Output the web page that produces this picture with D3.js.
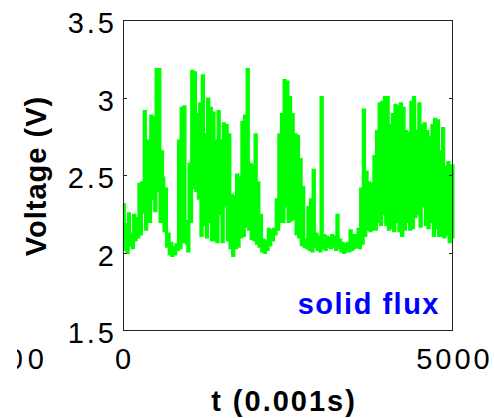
<!DOCTYPE html>
<html>
<head>
<meta charset="utf-8">
<script src="https://cdn.jsdelivr.net/npm/d3@7"></script>
<style>
  html, body { margin: 0; padding: 0; background: #fff; }
  svg { display: block; }
  .tick-label { font-family: "Liberation Sans", Arial, sans-serif; font-size: 29px; fill: #000; }
  .axis-title { font-family: "Liberation Sans", Arial, sans-serif; font-size: 29px; font-weight: bold; fill: #000; }
</style>
</head>
<body>
<svg id="chart" width="494" height="418"></svg>
<script>
// Voltage trace, one reading every 20 steps (t in units of 0.001 s)
const sampleStep = 20;
const voltage = [
  2.31, 2.02, 2.18, 2.00, 2.25, 2.05, 2.12, 2.03, 2.24, 2.08,
  2.22, 2.10, 2.44, 2.12, 2.45, 2.26, 2.91, 2.15, 2.60, 2.72,
  2.20, 2.88, 2.35, 2.87, 2.27, 3.18, 2.40, 3.18, 2.20, 2.65,
  2.48, 2.14, 2.41, 2.04, 2.12, 1.99, 2.06, 1.98, 2.03, 1.99,
  2.05, 2.02, 2.72, 2.03, 2.93, 2.07, 2.94, 2.20, 2.06, 2.01,
  2.57, 2.20, 3.17, 2.42, 3.16, 2.40, 2.89, 2.35, 2.96, 2.11,
  3.14, 2.18, 2.76, 2.10, 2.99, 2.20, 2.93, 2.08, 2.90, 2.08,
  2.72, 2.07, 2.91, 2.25, 2.72, 2.07, 2.83, 2.30, 2.82, 2.08,
  2.76, 2.03, 2.37, 1.98, 2.36, 2.03, 2.50, 2.04, 2.48, 2.10,
  2.84, 2.11, 2.88, 2.17, 3.18, 2.15, 2.57, 2.09, 2.56, 2.08,
  2.76, 2.06, 2.45, 2.04, 2.24, 2.01, 2.08, 2.00, 2.07, 2.02,
  2.15, 2.05, 2.14, 2.08, 2.15, 2.12, 2.34, 2.15, 2.76, 2.20,
  2.89, 2.20, 3.11, 2.30, 3.10, 2.20, 3.00, 2.21, 2.89, 2.22,
  2.76, 2.12, 2.75, 2.10, 2.60, 2.05, 2.42, 2.04, 2.08, 2.03,
  2.29, 2.02, 2.34, 2.01, 2.53, 2.04, 2.12, 2.02, 2.10, 2.01,
  3.00, 2.03, 2.11, 2.02, 2.10, 2.04, 2.09, 2.03, 2.11, 2.04,
  2.10, 2.02, 2.24, 2.03, 2.08, 2.01, 2.06, 2.00, 2.05, 2.01,
  2.06, 2.01, 2.14, 2.02, 2.11, 2.03, 2.11, 2.04, 2.15, 2.03,
  2.41, 2.06, 2.92, 2.11, 2.52, 2.15, 2.45, 2.14, 2.44, 2.15,
  2.62, 2.15, 2.78, 2.20, 2.96, 2.18, 2.97, 2.25, 3.00, 2.18,
  3.00, 2.15, 2.82, 2.16, 2.89, 2.14, 2.95, 2.20, 2.94, 2.14,
  2.96, 2.11, 2.93, 2.15, 2.78, 2.20, 2.77, 2.15, 2.97, 2.16,
  3.00, 2.23, 2.78, 2.25, 2.96, 2.17, 2.82, 2.30, 2.83, 2.18,
  2.78, 2.16, 2.74, 2.20, 2.82, 2.11, 2.86, 2.16, 2.85, 2.11,
  2.65, 2.11, 2.80, 2.10, 2.55, 2.12, 2.58, 2.07, 2.56, 2.10, 2.57
];

const xTicks = [0, 5000];
const yTicks = [1.5, 2, 2.5, 3, 3.5];
const xDomain = [0, 5000];
const yDomain = [1.5, 3.5];
const xTitle = "t (0.001s)";
const yTitle = "Voltage (V)";
const seriesLabel = "solid flux";
const neighbourTick = "5000";   // right-most tick of the panel to the left

const svg = d3.select("#chart");
const margin = { left: 123, right: 41, top: 20, bottom: 88 };
const W = 494, H = 418;
const plotW = W - margin.left - margin.right;
const plotH = H - margin.top - margin.bottom;

const x = d3.scaleLinear().domain(xDomain).range([margin.left, margin.left + plotW]);
const y = d3.scaleLinear().domain(yDomain).range([margin.top + plotH, margin.top]);

svg.append("rect").attr("width", W).attr("height", H).attr("fill", "#fff");

// trace
const line = d3.line()
  .x((d, i) => x(i * sampleStep))
  .y(d => y(d))
  .curve(d3.curveStepAfter);

svg.append("path")
  .datum(voltage)
  .attr("d", line)
  .attr("fill", "none")
  .attr("stroke", "#00ff00")
  .attr("stroke-width", 3)
  .attr("stroke-linejoin", "miter");

// frame
svg.append("rect")
  .attr("x", margin.left + 0.5).attr("y", margin.top + 0.5)
  .attr("width", plotW - 1).attr("height", plotH)
  .attr("fill", "none").attr("stroke", "#222").attr("stroke-width", 1);

// inward ticks, left and right
const tickLen = 4;
yTicks.forEach(v => {
  const yy = Math.round(y(v)) + 0.5;
  svg.append("line").attr("x1", margin.left).attr("x2", margin.left + tickLen)
    .attr("y1", yy).attr("y2", yy).attr("stroke", "#222");
  svg.append("line").attr("x1", margin.left + plotW - tickLen).attr("x2", margin.left + plotW)
    .attr("y1", yy).attr("y2", yy).attr("stroke", "#222");
});

// y tick labels
const ls = 3;
svg.append("g").selectAll("text").data(yTicks).join("text")
  .attr("class", "tick-label")
  .attr("x", 114 + ls)
  .attr("y", d => y(d) + 13)
  .attr("text-anchor", "end")
  .style("letter-spacing", ls + "px")
  .text(d => d3.format("")(d));

// x tick labels
svg.append("g").selectAll("text").data(xTicks).join("text")
  .attr("class", "tick-label")
  .attr("x", d => x(d) + ls / 2)
  .attr("y", 369)
  .attr("text-anchor", "middle")
  .style("letter-spacing", ls + "px")
  .text(d => d);

// tick label of the adjoining panel, trimmed at that panel's edge
svg.append("clipPath").attr("id", "neighbour-clip")
  .append("rect").attr("x", 17).attr("y", 330).attr("width", 60).attr("height", 60);

svg.append("text")
  .attr("class", "tick-label")
  .attr("clip-path", "url(#neighbour-clip)")
  .attr("x", 49)
  .attr("y", 369)
  .attr("text-anchor", "end")
  .style("letter-spacing", "5px")
  .text(neighbourTick);

// axis titles
svg.append("text")
  .attr("class", "axis-title")
  .attr("x", 284)
  .attr("y", 411)
  .attr("text-anchor", "middle")
  .style("letter-spacing", "2px")
  .text(xTitle);

svg.append("text")
  .attr("class", "axis-title")
  .attr("transform", "translate(46,176) rotate(-90)")
  .attr("text-anchor", "middle")
  .style("letter-spacing", "1px")
  .text(yTitle);

// series label
svg.append("text")
  .attr("x", 440)
  .attr("y", 314)
  .attr("text-anchor", "end")
  .style("font-family", "'Liberation Sans', Arial, sans-serif")
  .style("font-size", "29px")
  .style("font-weight", "bold")
  .style("letter-spacing", "1.5px")
  .style("fill", "#0000ff")
  .text(seriesLabel);
</script>
</body>
</html>
